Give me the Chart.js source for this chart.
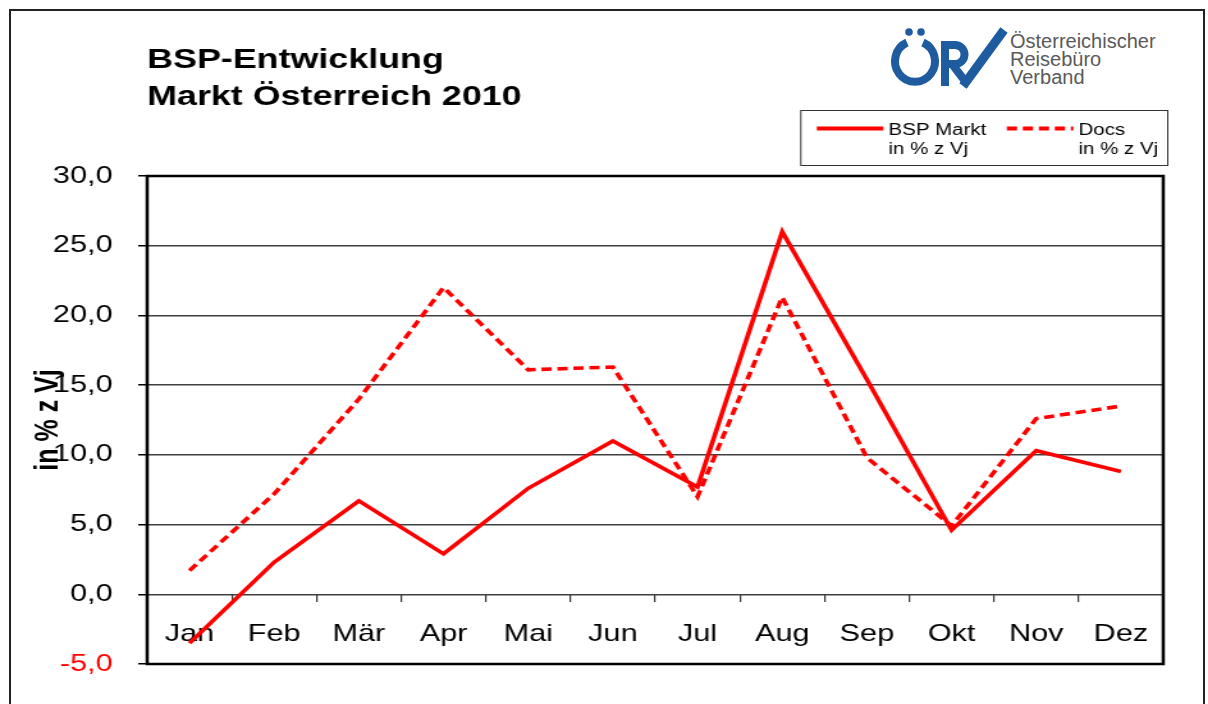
<!DOCTYPE html>
<html lang="de">
<head>
<meta charset="utf-8">
<title>BSP-Entwicklung Markt Österreich 2010</title>
<script src="https://cdn.jsdelivr.net/npm/chart.js@4.4.1/dist/chart.umd.min.js"></script>
<style>
    html, body { margin: 0; padding: 0; background: #fff; overflow: hidden; }
    body { width: 1208px; height: 704px; position: relative; }
    .frame { position: absolute; left: 9px; top: 9px; width: 1192px; height: 720px; border: 2px solid #222; }
    /* the original screenshot is stretched sideways, so the chart is drawn narrow and scaled */
    .stretch { position: absolute; left: 0; top: 0; width: 944px; height: 704px; transform: scaleX(1.2797); transform-origin: 0 0; }
    .logo { position: absolute; left: 885px; top: 25px; }
    .logo-text { position: absolute; left: 1010px; top: 32px; font: 20px 'Liberation Sans', Arial, sans-serif; line-height: 18px; color: #5a5a5a; }
</style>
</head>
<body>
<div class="frame"></div>
<svg class="logo" width="125" height="65" viewBox="0 0 125 65">
    <g fill="none" stroke="#1e5c9f" stroke-width="8">
        <path d="M38,17.5 A20,20.5 0 1 1 22,17.5"></path>
        <path d="M60,16 V61"></path>
        <path d="M60,20 H70 A9.5,9.5 0 0 1 70,39 H60"></path>
        <path d="M67,39 L83,60"></path>
    </g>
    <path d="M78,61 L119,5" stroke="#1e5c9f" stroke-width="9" fill="none"></path>
    <circle cx="24" cy="7" r="3.8" fill="#1e5c9f"></circle>
    <circle cx="36" cy="7" r="3.8" fill="#1e5c9f"></circle>
</svg>
<div class="logo-text">Österreichischer<br>Reisebüro<br>Verband</div>
<div class="stretch"><canvas id="bspChart"></canvas></div>

<script>
// Werte in % zum Vorjahr
const months = ['Jan', 'Feb', 'Mär', 'Apr', 'Mai', 'Jun', 'Jul', 'Aug', 'Sep', 'Okt', 'Nov', 'Dez'];
const bspMarkt = [-3.5, 2.3, 6.7, 2.9, 7.6, 11.0, 7.7, 26.0, 15.4, 4.6, 10.3, 8.8];
const docs = [1.7, 7.2, 14.0, 22.0, 16.1, 16.3, 7.0, 21.3, 9.8, 4.9, 12.6, 13.5];
const seriesNames = ['BSP Markt', 'Docs'];
const unitLabel = 'in % z Vj';
const titleLines = ['BSP-Entwicklung', 'Markt Österreich 2010'];
const yMin = -5;
const yMax = 30;
const yStep = 5;

const FONT = "'Liberation Sans', Arial, sans-serif";
Chart.defaults.font.family = FONT;
Chart.defaults.color = '#000';

// thick black frame round the plot area
const plotFrame = {
    id: 'plotFrame',
    beforeDatasetsDraw(chart) {
        const { ctx, chartArea: a } = chart;
        ctx.save();
        ctx.strokeStyle = '#000';
        ctx.lineWidth = 2.5;
        ctx.strokeRect(a.left, a.top, a.right - a.left, a.bottom - a.top);
        ctx.restore();
    }
};

// boxed legend with two-line labels
const boxLegend = {
    id: 'boxLegend',
    afterDraw(chart) {
        const { ctx, chartArea } = chart;
        const datasets = chart.data.datasets;
        const sample = 52, gap = 4, padLeft = 13, padRight = 7, itemGap = 16;
        ctx.save();
        ctx.font = '16px ' + FONT;
        const widths = datasets.map(ds => Math.max(ctx.measureText(ds.label).width, ctx.measureText(unitLabel).width));
        const w = padLeft + padRight + widths.reduce((s, tw) => s + sample + gap + tw, 0) + itemGap * (datasets.length - 1);
        const h = 55;
        const right = chartArea.right + 3;
        const top = chartArea.top - 66;
        const left = right - w;

        ctx.strokeStyle = '#333';
        ctx.lineWidth = 1;
        ctx.strokeRect(left + 0.5, top + 0.5, w, h);

        let x = left + padLeft;
        datasets.forEach((ds, i) => {
            ctx.beginPath();
            ctx.setLineDash(ds.borderDash || []);
            ctx.strokeStyle = ds.borderColor;
            ctx.lineWidth = 4;
            ctx.moveTo(x, top + 18.5);
            ctx.lineTo(x + sample, top + 18.5);
            ctx.stroke();
            ctx.setLineDash([]);
            ctx.fillStyle = '#000';
            ctx.textAlign = 'left';
            ctx.textBaseline = 'alphabetic';
            ctx.fillText(ds.label, x + sample + gap, top + 24.5);
            ctx.fillText(unitLabel, x + sample + gap, top + 43.5);
            x += sample + gap + widths[i] + itemGap;
        });
        ctx.restore();
    }
};

class BspChart {
    constructor(canvasId) {
        this.ctx = document.getElementById(canvasId).getContext('2d');
        this.chart = new Chart(this.ctx, {
            type: 'line',
            data: {
                labels: months,
                datasets: [
                    this.lineSeries(seriesNames[0], bspMarkt, []),
                    this.lineSeries(seriesNames[1], docs, [8, 4.5])
                ]
            },
            options: this.buildOptions(),
            plugins: [plotFrame, boxLegend]
        });
    }

    lineSeries(label, data, dash) {
        return {
            label: label,
            data: data,
            borderColor: '#ff0000',
            borderWidth: 3.6,
            borderDash: dash,
            borderJoinStyle: 'miter',
            pointRadius: 0,
            tension: 0,
            fill: false
        };
    }

    buildOptions() {
        return {
            responsive: true,
            maintainAspectRatio: false,
            animation: false,
            layout: { padding: { left: 0, right: 35, top: 0, bottom: 40 } },
            plugins: {
                legend: { display: false },
                tooltip: { enabled: false },
                title: {
                    display: true,
                    text: titleLines,
                    align: 'start',
                    fullSize: false,
                    color: '#000',
                    font: { size: 28, weight: 'bold', lineHeight: '37px' },
                    padding: { top: 42, bottom: 60 }
                }
            },
            scales: {
                x: {
                    position: { y: 0 },
                    offset: true,
                    border: { display: false },
                    grid: {
                        offset: true,
                        drawOnChartArea: false,
                        tickLength: 8,
                        tickColor: '#333',
                        lineWidth: 1.2
                    },
                    ticks: {
                        color: '#000',
                        font: { size: 24 },
                        padding: 17.6,
                        maxRotation: 0,
                        autoSkip: false
                    }
                },
                y: {
                    min: yMin,
                    max: yMax,
                    border: { display: false },
                    grid: {
                        color: '#404040',
                        lineWidth: 1.5,
                        tickLength: 7,
                        tickColor: '#000'
                    },
                    ticks: {
                        stepSize: yStep,
                        padding: 20,
                        font: { size: 24 },
                        color: (c) => c.tick && c.tick.value < 0 ? '#ff0000' : '#000',
                        callback: (v) => v.toFixed(1).replace('.', ',')
                    },
                    title: {
                        display: true,
                        text: unitLabel,
                        color: '#000',
                        font: { size: 25, weight: 'bold' },
                        padding: { top: 23, bottom: 0 }
                    },
                    afterFit: (scale) => { scale.width = 115; }
                }
            }
        };
    }
}

document.addEventListener('DOMContentLoaded', () => {
    window.bspChart = new BspChart('bspChart');
});
</script>
</body>
</html>
